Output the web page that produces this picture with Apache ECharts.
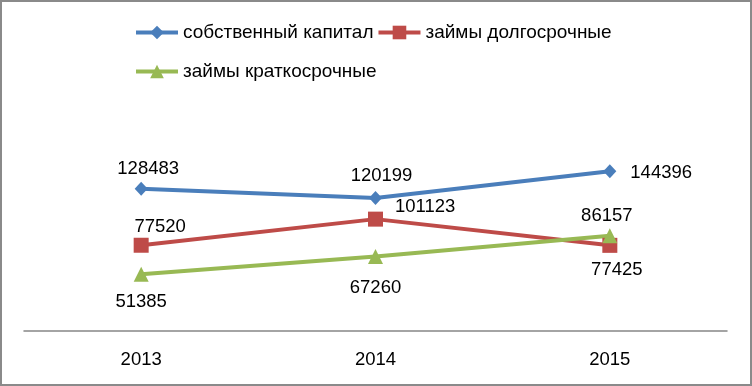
<!DOCTYPE html>
<html><head><meta charset="utf-8">
<script src="https://cdn.jsdelivr.net/npm/echarts@6/dist/echarts.min.js"></script>
<style>html,body{margin:0;padding:0;background:#fff}#c{width:752px;height:386px;box-sizing:border-box;border:2px solid #8a8a8a;}</style>
</head><body><div id="c"></div>
<script>
const categories = ['2013', '2014', '2015'];
const seriesNames = ['собственный капитал', 'займы долгосрочные', 'займы краткосрочные'];
const equity = [128483, 120199, 144396];
const longLoans = [77520, 101123, 77425];
const shortLoans = [51385, 67260, 86157];

const FONT = 'Liberation Sans';
const chart = echarts.init(document.getElementById('c'), null, {renderer: 'canvas'});

function mk(values, labelCfgs) {
  return values.map((v, i) => ({value: v, label: labelCfgs[i]}));
}
const lbl = {show: true, color: '#000', fontFamily: FONT, fontSize: 18.5};
const legendText = {fontFamily: FONT, fontSize: 19, color: '#000'};

chart.setOption({
  animation: false,
  grid: {left: 22, right: 23, top: 152, bottom: 53},
  legend: [
    {left: 132, top: 21, padding: 0, itemWidth: 42, itemHeight: 17, itemGap: 3,
     lineStyle: {width: 4}, data: [seriesNames[0], seriesNames[1]], textStyle: legendText},
    {left: 132, top: 60, padding: 0, itemWidth: 42, itemHeight: 17,
     lineStyle: {width: 4}, data: [seriesNames[2]], textStyle: legendText}
  ],
  xAxis: {
    type: 'category', data: categories, boundaryGap: true,
    axisLine: {lineStyle: {color: '#868686', width: 1.5}},
    axisTick: {show: false},
    axisLabel: {color: '#000', fontFamily: FONT, fontSize: 18.5, margin: 19}
  },
  yAxis: {type: 'value', min: 0, max: 160000, show: false, splitLine: {show: false}},
  series: [
    {name: seriesNames[0], type: 'line', symbol: 'diamond', symbolSize: [13, 14],
     color: '#4A7EBB', lineStyle: {width: 4, color: '#4A7EBB'},
     data: mk(equity, [
       Object.assign({}, lbl, {position: 'top', distance: 3, offset: [7, 0]}),
       Object.assign({}, lbl, {position: 'top', distance: 6, offset: [6, 0]}),
       Object.assign({}, lbl, {position: 'right', distance: 14, offset: [0, 2]})
     ])},
    {name: seriesNames[1], type: 'line', symbol: 'rect', symbolSize: 15,
     color: '#BE4B48', lineStyle: {width: 4, color: '#BE4B48'},
     data: mk(longLoans, [
       Object.assign({}, lbl, {position: 'top', distance: 1, offset: [19, 0]}),
       Object.assign({}, lbl, {position: 'right', distance: 12, offset: [0, -12]}),
       Object.assign({}, lbl, {position: 'bottom', distance: 8, offset: [7, 0]})
     ])},
    {name: seriesNames[2], type: 'line', symbol: 'triangle', symbolSize: 15,
     color: '#98B954', lineStyle: {width: 4, color: '#98B954'},
     data: mk(shortLoans, [
       Object.assign({}, lbl, {position: 'bottom', distance: 11, offset: [0, 0]}),
       Object.assign({}, lbl, {position: 'bottom', distance: 14, offset: [0, 0]}),
       Object.assign({}, lbl, {position: 'top', distance: 3, offset: [-3, 0]})
     ])}
  ]
});
</script></body></html>
